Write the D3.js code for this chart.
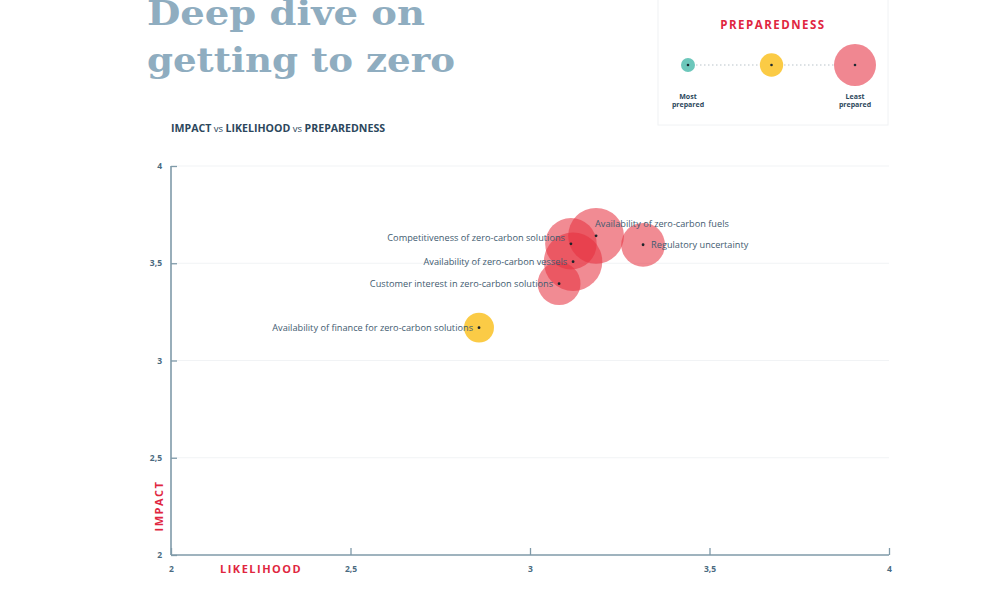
<!DOCTYPE html>
<meta charset="utf-8">
<script src="https://cdn.jsdelivr.net/npm/d3@7/dist/d3.min.js"></script>
<style>
  body { margin: 0; background: #fff; }
  text { font-family: "Open Sans", "Noto Sans", sans-serif; }
</style>
<body>
<svg width="1000" height="600"></svg>
</body>
<script>
    // risks
    var risks = ["Availability of zero-carbon fuels",
                 "Competitiveness of zero-carbon solutions",
                 "Availability of zero-carbon vessels",
                 "Customer interest in zero-carbon solutions",
                 "Regulatory uncertainty",
                 "Availability of finance for zero-carbon solutions"];
    var likelihood = [3.184, 3.114, 3.12, 3.081, 3.315, 2.858];
    var impact = [3.641, 3.60, 3.508, 3.395, 3.595, 3.169];
    // preparedness score, higher = better prepared
    var preparedness = [1.7, 1.95, 1.55, 2.45, 2.4, 3.2];
    var labelSide = ["above", "left", "left", "left", "right", "left"];

    var ticks = [2, 2.5, 3, 3.5, 4];
    var legendLevels = [4, 3, 1];
    var legendNames = ["Most\nprepared", "", "Least\nprepared"];

    var clr_axis = "#7f9aa9",
        clr_tick = "#4a6a80",
        clr_red = "#e0263f",
        clr_txt = "#3f5b70",
        clr_dark = "#2c475c";

    var svg = d3.select("svg");

    var x = d3.scaleLinear().domain([2, 4]).range([171, 889]);
    var y = d3.scaleLinear().domain([2, 4]).range([555, 166]);
    var r = d3.scaleLinear().domain([1, 4]).range([34, 8]);
    var colour = function (p) {
        if (p >= 3.6) return "#5ec3b6";
        if (p >= 2.8) return "#fbc83c";
        return "#e6303f";
    };
    var fmt = function (d) { return String(d).replace(".", ","); };

    // title
    var title = svg.append("text")
        .style("font-family", "'DejaVu Serif', serif")
        .style("font-weight", "bold")
        .style("font-size", "34px")
        .style("fill", "#8fadc0");
    title.append("tspan").attr("x", 147).attr("y", 25)
        .attr("textLength", 278).attr("lengthAdjust", "spacingAndGlyphs").text("Deep dive on");
    title.append("tspan").attr("x", 147).attr("y", 72)
        .attr("textLength", 308).attr("lengthAdjust", "spacingAndGlyphs").text("getting to zero");

    // legend box
    var lg = svg.append("g");
    lg.append("rect")
        .attr("x", 658).attr("y", -4).attr("width", 230).attr("height", 129)
        .attr("fill", "#fff").attr("stroke", "#f0f2f4");
    lg.append("text")
        .attr("x", 773).attr("y", 29).attr("text-anchor", "middle")
        .style("font-size", "11.5px").style("font-weight", "bold")
        .style("letter-spacing", "1.5px").style("fill", clr_red)
        .text("PREPAREDNESS");
    var lx = d3.scalePoint().domain(legendLevels).range([688, 855]);
    var lr = d3.scaleLinear().domain([1, 4]).range([21, 7]);
    lg.append("line")
        .attr("x1", lx(4)).attr("x2", lx(1)).attr("y1", 65).attr("y2", 65)
        .attr("stroke", "#b9c3ca").attr("stroke-width", 1.2)
        .attr("stroke-dasharray", "1.5,2.5");
    var lgItem = lg.selectAll("g.item").data(legendLevels).enter().append("g");
    lgItem.append("circle")
        .attr("cx", function (d) { return lx(d); }).attr("cy", 65)
        .attr("r", function (d) { return lr(d); })
        .attr("fill", function (d, i) { return ["#6cc7bb", "#fbcb45", "#f08791"][i]; });
    lgItem.append("circle")
        .attr("cx", function (d) { return lx(d); }).attr("cy", 65).attr("r", 1.3)
        .attr("fill", "#1d2b33");
    lgItem.each(function (d, i) {
        var lines = legendNames[i] ? legendNames[i].split("\n") : [];
        d3.select(this).selectAll("text").data(lines).enter().append("text")
            .attr("x", lx(d)).attr("y", function (t, j) { return 99 + j * 7.5; })
            .attr("text-anchor", "middle")
            .style("font-size", "7px").style("font-weight", "bold")
            .style("fill", clr_dark)
            .text(function (t) { return t; });
    });

    // subtitle
    var sub = svg.append("text").attr("x", 171).attr("y", 132)
        .style("font-size", "10.6px").style("font-weight", "bold").style("fill", clr_dark);
    sub.append("tspan").text("IMPACT");
    sub.append("tspan").style("font-weight", "normal").style("font-size", "9.5px").text(" vs ");
    sub.append("tspan").text("LIKELIHOOD");
    sub.append("tspan").style("font-weight", "normal").style("font-size", "9.5px").text(" vs ");
    sub.append("tspan").text("PREPAREDNESS");

    // faint grid
    svg.append("g").selectAll("line").data(ticks.slice(1)).enter().append("line")
        .attr("x1", x(2)).attr("x2", x(4))
        .attr("y1", function (d) { return y(d); }).attr("y2", function (d) { return y(d); })
        .attr("stroke", "#f1f3f5").attr("stroke-width", 1);

    // axes
    var yAxis = svg.append("g").attr("transform", "translate(" + x(2) + ",0)")
        .call(d3.axisRight(y).tickValues(ticks).tickSize(6).tickFormat(fmt));
    var xAxis = svg.append("g").attr("transform", "translate(0," + y(2) + ")")
        .call(d3.axisTop(x).tickValues(ticks).tickSize(7).tickFormat(fmt));
    [yAxis, xAxis].forEach(function (a) {
        a.select(".domain").attr("stroke", clr_axis).attr("stroke-width", 1.6);
        a.selectAll(".tick line").attr("stroke", clr_axis).attr("stroke-width", 1.3);
        a.selectAll(".tick text")
            .style("font-family", "'Open Sans', sans-serif")
            .style("font-size", "8.5px").style("font-weight", "bold").style("fill", clr_tick);
    });
    yAxis.select(".domain").attr("d", "M0," + y(4) + "V" + y(2));
    xAxis.select(".domain").attr("d", "M" + x(2) + ",0H" + x(4));
    yAxis.selectAll(".tick text").attr("x", -9).attr("text-anchor", "end").attr("dy", "0.32em");
    xAxis.selectAll(".tick text").attr("y", 14).attr("dy", "0.32em");

    // axis titles
    svg.append("text")
        .attr("transform", "translate(163," + 506 + ") rotate(-90)")
        .attr("text-anchor", "middle")
        .style("font-size", "11px").style("font-weight", "bold")
        .style("letter-spacing", "1.5px").style("fill", clr_red)
        .text("IMPACT");
    svg.append("text")
        .attr("x", 220).attr("y", 573)
        .style("font-size", "11px").style("font-weight", "bold")
        .style("letter-spacing", "1.5px").style("fill", clr_red)
        .text("LIKELIHOOD");

    // bubbles
    var data = risks.map(function (name, i) {
        return { name: name, lx: likelihood[i], im: impact[i], p: preparedness[i], side: labelSide[i] };
    });
    var bubbles = svg.append("g");
    bubbles.selectAll("circle").data(data).enter().append("circle")
        .attr("cx", function (d) { return x(d.lx); })
        .attr("cy", function (d) { return y(d.im); })
        .attr("r", function (d) { return r(d.p); })
        .attr("fill", function (d) { return colour(d.p); })
        .attr("fill-opacity", function (d) { return d.p >= 2.8 ? 0.95 : 0.56; });

    var labels = svg.append("g");
    labels.selectAll("circle").data(data).enter().append("circle")
        .attr("cx", function (d) { return x(d.lx); })
        .attr("cy", function (d) { return y(d.im); })
        .attr("r", 1.4).attr("fill", "#1b2329");
    labels.selectAll("text").data(data).enter().append("text")
        .attr("x", function (d) {
            if (d.side === "above") return x(d.lx) - 1;
            return x(d.lx) + (d.side === "right" ? 8 : -6);
        })
        .attr("y", function (d) {
            if (d.side === "above") return y(d.im) - 12;
            if (d.name.indexOf("Competitiveness") === 0) return y(d.im) - 6;
            return y(d.im);
        })
        .attr("dy", "0.35em")
        .attr("text-anchor", function (d) { return d.side === "left" ? "end" : "start"; })
        .style("font-size", "9.2px").style("fill", clr_txt)
        .text(function (d) { return d.name; });
</script>
